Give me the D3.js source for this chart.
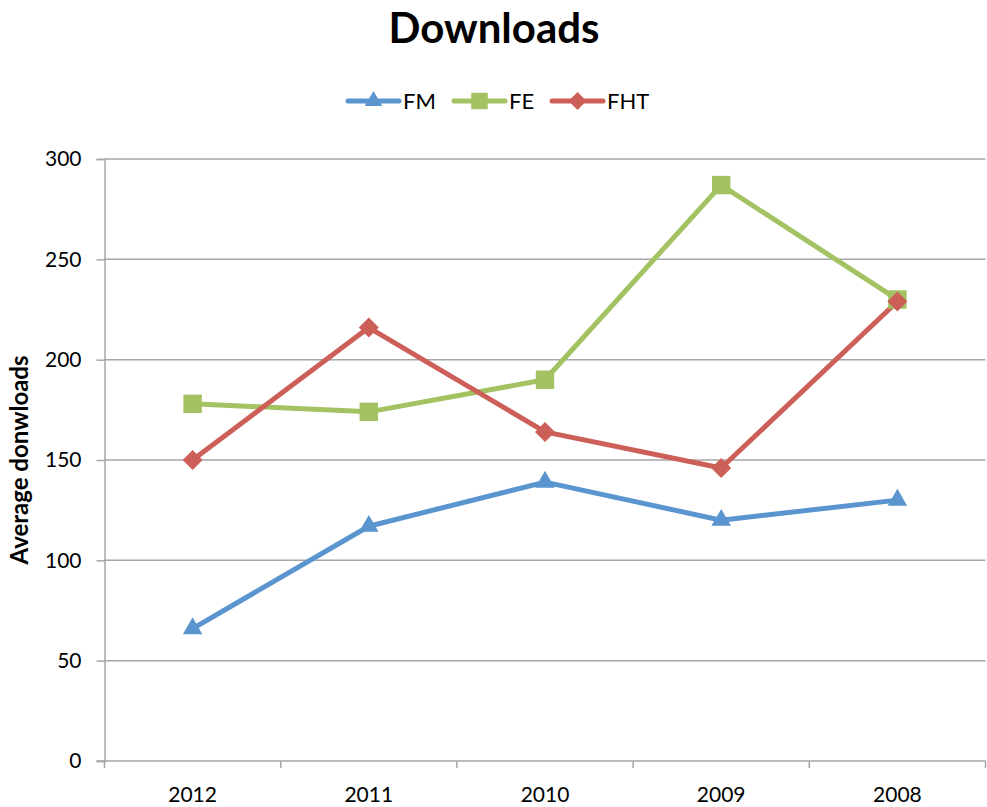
<!DOCTYPE html>
<html>
<head>
<meta charset="utf-8">
<script src="https://cdn.jsdelivr.net/npm/d3@7"></script>
<style>
  html, body { margin: 0; padding: 0; background: #fff; }
  svg { display: block; font-family: Lato, "Open Sans", "Liberation Sans", sans-serif; }
</style>
</head>
<body>
<svg id="chart" width="987" height="807"></svg>
<script>
// Years, in display order
const years = ["2012", "2011", "2010", "2009", "2008"];
// Average downloads per series
const fmValues  = [66, 117, 139, 120, 130];
const feValues  = [178, 174, 190, 287, 230];
const fhtValues = [150, 216, 164, 146, 229];
const yTicks = [0, 50, 100, 150, 200, 250, 300];

const series = [
  { name: "FM",  values: fmValues,  color: "#5b95cf", marker: d3.symbolTriangle, size: 165, rot: 0 },
  { name: "FE",  values: feValues,  color: "#a3c262", marker: d3.symbolSquare,   size: 340, rot: 0 },
  { name: "FHT", values: fhtValues, color: "#cd5f59", marker: d3.symbolSquare,   size: 200, rot: 45 }
];

const svg = d3.select("#chart");
const margin = { left: 104.5, right: 1.5, top: 159, bottom: 46 };
const W = 987, H = 807;
const x = d3.scaleBand().domain(years).range([margin.left, W - margin.right]);
const y = d3.scaleLinear().domain([0, 300]).range([H - margin.bottom, margin.top]);
const grid = "#a6a6a6";

// Title
svg.append("text").attr("x", 494).attr("y", 43).attr("text-anchor", "middle")
  .attr("font-size", 42).attr("font-weight", "bold").attr("fill", "#000").text("Downloads");

// Horizontal gridlines
svg.append("g").selectAll("line").data(yTicks.filter(t => t > 0)).join("line")
  .attr("x1", margin.left).attr("x2", W - margin.right)
  .attr("y1", d => y(d)).attr("y2", d => y(d))
  .attr("stroke", grid).attr("stroke-width", 1.5);

// Y axis
const yAxis = svg.append("g").attr("transform", `translate(${margin.left},0)`)
  .call(d3.axisLeft(y).tickValues(yTicks).tickSize(8).tickPadding(15));
yAxis.select(".domain").attr("stroke", grid).attr("stroke-width", 1.5);
yAxis.selectAll(".tick line").attr("stroke", grid).attr("stroke-width", 1.5);
yAxis.selectAll(".tick text").attr("font-size", 21).attr("fill", "#000")
  .attr("font-family", "Lato, 'Open Sans', sans-serif");

// X axis with ticks at band boundaries
const xAxisY = y(0);
const xg = svg.append("g");
xg.append("line").attr("x1", margin.left - 8).attr("x2", W - margin.right)
  .attr("y1", xAxisY).attr("y2", xAxisY).attr("stroke", grid).attr("stroke-width", 1.5);
const bounds = years.map(d => x(d)).concat([x(years[years.length - 1]) + x.bandwidth()]);
xg.selectAll("line.tk").data(bounds).join("line").attr("class", "tk")
  .attr("x1", d => d).attr("x2", d => d)
  .attr("y1", xAxisY).attr("y2", xAxisY + 7)
  .attr("stroke", grid).attr("stroke-width", 1.5);
xg.selectAll("text").data(years).join("text")
  .attr("x", d => x(d) + x.bandwidth() / 2).attr("y", xAxisY + 41)
  .attr("text-anchor", "middle").attr("font-size", 21).attr("fill", "#000").text(d => d);

// Y axis title
svg.append("text").attr("transform", `translate(28,${y(150)}) rotate(-90)`)
  .attr("text-anchor", "middle").attr("font-size", 24).attr("font-weight", "bold")
  .attr("fill", "#000").text("Average donwloads");

// Lines and markers
const line = d3.line().x((d, i) => x(years[i]) + x.bandwidth() / 2).y(d => y(d));
series.forEach(s => {
  svg.append("path").datum(s.values).attr("d", line)
    .attr("fill", "none").attr("stroke", s.color).attr("stroke-width", 5)
    .attr("stroke-linejoin", "round");
});
series.forEach(s => {
  svg.append("g").selectAll("path").data(s.values).join("path")
    .attr("transform", (d, i) => `translate(${x(years[i]) + x.bandwidth() / 2},${y(d)}) rotate(${s.rot})`)
    .attr("d", d3.symbol().type(s.marker).size(s.size)).attr("fill", s.color);
});

// Legend
const legendX = [348, 454, 552];
series.forEach((s, i) => {
  const g = svg.append("g").attr("transform", `translate(${legendX[i]},101)`);
  g.append("line").attr("x1", 0).attr("x2", 51).attr("stroke", s.color)
    .attr("stroke-width", 5).attr("stroke-linecap", "round");
  g.append("path").attr("transform", `translate(25.5,0) rotate(${s.rot})`)
    .attr("d", d3.symbol().type(s.marker).size(s.size * 0.8)).attr("fill", s.color);
  g.append("text").attr("x", 55).attr("y", 8).attr("font-size", 22)
    .attr("fill", "#000").text(s.name);
});
</script>
</body>
</html>
